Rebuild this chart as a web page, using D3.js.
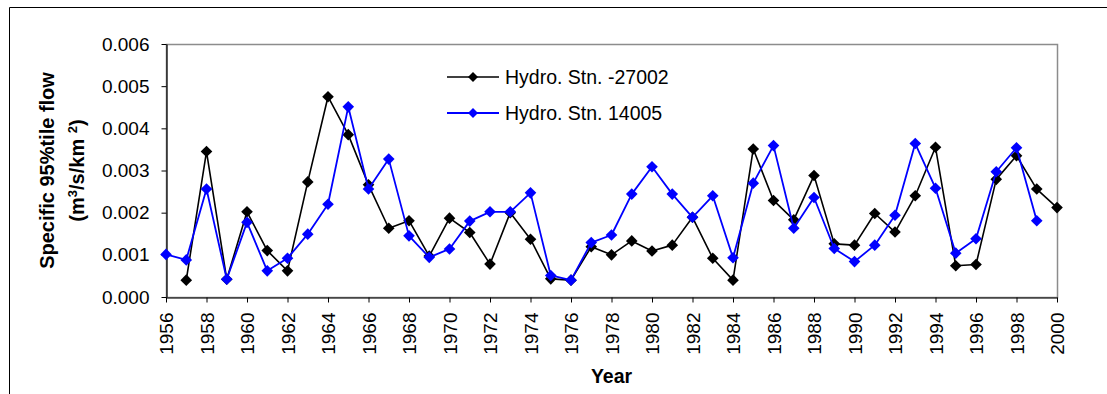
<!DOCTYPE html>
<html>
<head>
<meta charset="utf-8">
<script src="https://cdn.jsdelivr.net/npm/d3@7"></script>
<style>
  html, body { margin: 0; padding: 0; background: #fff; }
  svg { display: block; font-family: Arial, "Liberation Sans", sans-serif; }
</style>
</head>
<body>
<svg id="chart" width="1107" height="394"></svg>
<script>
// Years on the category axis
const years = d3.range(1956, 2001);

// Specific 95%tile flow (m3/s/km2), one value per year; null = no record
const stn27002 = [null, 0.00040, 0.00345, 0.00042, 0.00202, 0.00110, 0.00062, 0.00273, 0.00475, 0.00385,
  0.00266, 0.00163, 0.00181, 0.00097, 0.00187, 0.00153, 0.00078, 0.00200, 0.00137, 0.00043,
  0.00040, 0.00119, 0.00100, 0.00133, 0.00109, 0.00123, 0.00189, 0.00092, 0.00040, 0.00351,
  0.00229, 0.00183, 0.00288, 0.00126, 0.00123, 0.00198, 0.00154, 0.00240, 0.00355, 0.00074,
  0.00077, 0.00279, 0.00335, 0.00256, 0.00212];

const stn14005 = [0.00101, 0.00088, 0.00256, 0.00042, 0.00177, 0.00062, 0.00092, 0.00149, 0.00220, 0.00451,
  0.00256, 0.00327, 0.00145, 0.00094, 0.00114, 0.00180, 0.00202, 0.00202, 0.00247, 0.00051,
  0.00040, 0.00129, 0.00147, 0.00244, 0.00309, 0.00244, 0.00189, 0.00240, 0.00093, 0.00270,
  0.00359, 0.00163, 0.00236, 0.00115, 0.00084, 0.00123, 0.00194, 0.00364, 0.00258, 0.00104,
  0.00138, 0.00297, 0.00354, 0.00181, null];

// Tick labels
const xTickYears = d3.range(1956, 2001, 2);
const yTickValues = [0, 0.001, 0.002, 0.003, 0.004, 0.005, 0.006];

const seriesNames = ["Hydro. Stn. -27002", "Hydro. Stn. 14005"];
const seriesColors = ["#000000", "#0000ff"];

const svg = d3.select("#chart");
const plot = { left: 166, right: 1057, top: 44, bottom: 297 };
const FONT = 19;

const x = d3.scaleLinear().domain([1956, 2000]).range([plot.left, plot.right]);
const y = d3.scaleLinear().domain([0, 0.006]).range([plot.bottom, plot.top]);

// Outer chart frame
svg.append("path")
  .attr("d", `M9.5,${394 + 2} V7.5 H${1107 + 2}`)
  .attr("fill", "none").attr("stroke", "#000").attr("stroke-width", 1);

// Plot area frame (grey)
svg.append("rect")
  .attr("x", plot.left + 0.5).attr("y", plot.top + 0.5)
  .attr("width", plot.right - plot.left).attr("height", plot.bottom - plot.top)
  .attr("fill", "#fff").attr("stroke", "#8c8c8c").attr("stroke-width", 1.5);

// Y axis
const yAxis = svg.append("g")
  .attr("transform", `translate(${plot.left + 0.5},0)`)
  .call(d3.axisLeft(y).tickValues(yTickValues).tickFormat(d3.format(".3f")).tickSize(5).tickSizeOuter(0).tickPadding(12));

// X axis
const xAxis = svg.append("g")
  .attr("transform", `translate(0,${plot.bottom + 0.5})`)
  .call(d3.axisBottom(x).tickValues(xTickYears).tickFormat(d3.format("d")).tickSize(5).tickSizeOuter(0));

xAxis.selectAll(".tick text")
  .attr("transform", "rotate(-90)")
  .attr("text-anchor", "end")
  .attr("x", -15)
  .attr("y", 0)
  .attr("dy", "0.35em");

[yAxis, xAxis].forEach(g => {
  g.selectAll(".domain").attr("stroke", "#000").attr("stroke-width", 1.2);
  g.selectAll(".tick line").attr("stroke", "#000");
  g.selectAll(".tick text").attr("fill", "#000").style("font-size", FONT + "px")
    .style("font-family", "Arial, 'Liberation Sans', sans-serif");
});

// Axis titles
svg.append("text")
  .attr("x", (plot.left + plot.right) / 2).attr("y", 383)
  .attr("text-anchor", "middle")
  .style("font-size", "19.5px").style("font-weight", "bold")
  .text("Year");

const yTitle = svg.append("g")
  .attr("transform", `translate(0,${(plot.top + plot.bottom) / 2}) rotate(-90)`)
  .style("font-size", "20px").style("font-weight", "bold");
yTitle.append("text").attr("x", 0).attr("y", 54).attr("text-anchor", "middle")
  .text("Specific 95%tile flow");
const t2 = yTitle.append("text").attr("x", 0).attr("y", 84).attr("text-anchor", "middle");
t2.append("tspan").text("(m");
t2.append("tspan").attr("dy", -7).style("font-size", "13px").text("3");
t2.append("tspan").attr("dy", 7).text("/s/km ");
t2.append("tspan").attr("dy", -7).style("font-size", "13px").text("2");
t2.append("tspan").attr("dy", 7).text(")");

// Series lines and diamond markers
const diamond = r => `M0,${-r}L${r},0L0,${r}L${-r},0Z`;
const allSeries = [stn27002, stn14005];

allSeries.forEach((vals, i) => {
  const pts = years.map((yr, k) => ({ yr, v: vals[k] })).filter(d => d.v != null);
  const line = d3.line().x(d => x(d.yr)).y(d => y(d.v));
  svg.append("path")
    .datum(pts)
    .attr("d", line)
    .attr("fill", "none")
    .attr("stroke", seriesColors[i])
    .attr("stroke-width", i === 0 ? 1.6 : 1.8)
    .attr("stroke-linejoin", "round");
  svg.append("g").selectAll("path")
    .data(pts)
    .join("path")
    .attr("transform", d => `translate(${x(d.yr)},${y(d.v)})`)
    .attr("d", diamond(5.8))
    .attr("fill", seriesColors[i]);
});

// Legend
const legend = svg.append("g");
const legendRows = [77, 113];
seriesNames.forEach((name, i) => {
  const ly = legendRows[i];
  legend.append("line")
    .attr("x1", 447).attr("x2", 499).attr("y1", ly).attr("y2", ly)
    .attr("stroke", seriesColors[i]).attr("stroke-width", i === 0 ? 1.6 : 1.8);
  legend.append("path")
    .attr("transform", `translate(473,${ly})`)
    .attr("d", diamond(5))
    .attr("fill", seriesColors[i]);
  legend.append("text")
    .attr("x", 505).attr("y", ly + 7)
    .style("font-size", "19.5px")
    .text(name);
});
</script>
</body>
</html>
